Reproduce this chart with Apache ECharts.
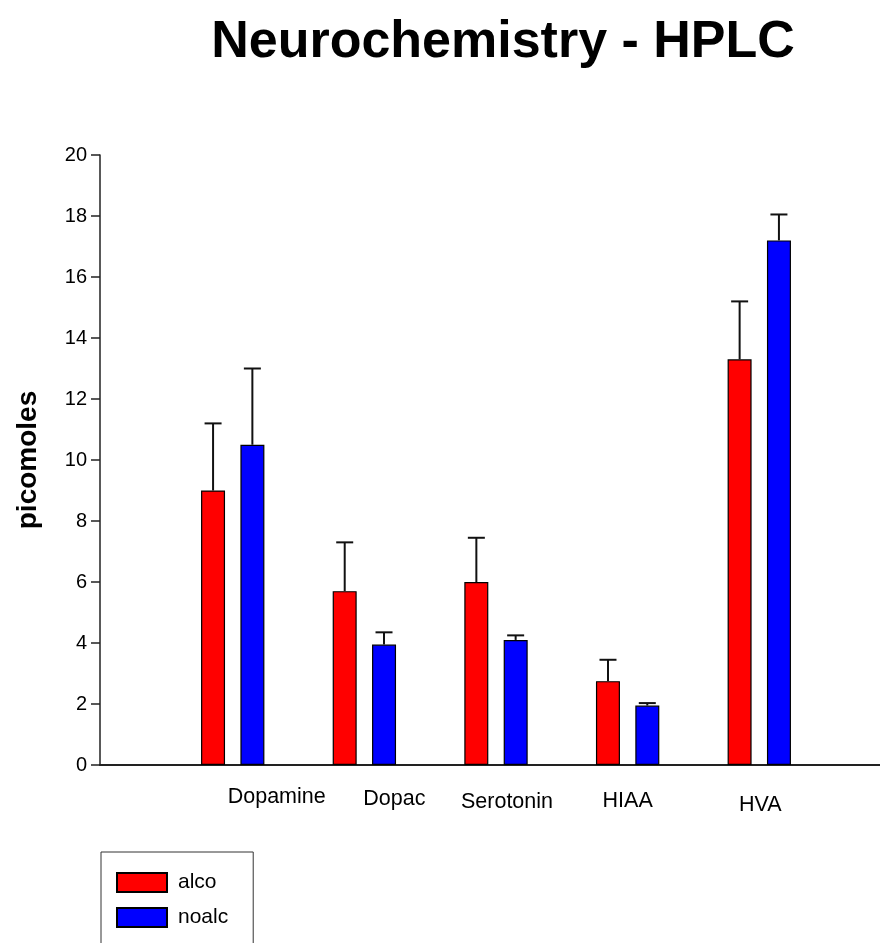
<!DOCTYPE html>
<html>
<head>
<meta charset="utf-8">
<script src="https://cdn.jsdelivr.net/npm/echarts@6/dist/echarts.min.js"></script>
<style>html,body{margin:0;padding:0;background:#fff}#c{width:880px;height:943px}</style>
</head>
<body>
<div id="c"></div>
<script>
const categories = ['Dopamine', 'Dopac', 'Serotonin', 'HIAA', 'HVA'];
const alco = [9.0, 5.7, 6.0, 2.75, 13.3];
const alcoErr = [2.2, 1.6, 1.45, 0.7, 1.9];
const noalc = [10.5, 3.95, 4.1, 1.95, 17.2];
const noalcErr = [2.5, 0.4, 0.15, 0.08, 0.85];
const yTicks = [0, 2, 4, 6, 8, 10, 12, 14, 16, 18, 20];

const FONT = '"Liberation Sans", Arial, sans-serif';
// per-label visual nudges (style only)
const labelShift = [[88, 0], [60, 2], [22, 5], [0, 4], [2, 8]];
const rich = {};
labelShift.forEach((s, i) => {
  rich['s' + i] = { fontSize: 21.5, fontFamily: FONT, color: '#000', padding: [s[1], 0, 0, s[0]] };
});

function makeErr(name, means, errs, dx) {
  return {
    type: 'custom', name: name, xAxisIndex: 1, yAxisIndex: 1, z: 5, silent: true,
    data: means.map((m, i) => [i, m, m + errs[i]]),
    renderItem: function (params, api) {
      const b = api.coord([api.value(0), api.value(1)]);
      const t = api.coord([api.value(0), api.value(2)]);
      const x = b[0] + dx;
      const st = { stroke: '#111', lineWidth: 2 };
      return {
        type: 'group', children: [
          { type: 'line', shape: { x1: x, y1: b[1], x2: x, y2: t[1] }, style: st },
          { type: 'line', shape: { x1: x - 8.5, y1: t[1], x2: x + 8.5, y2: t[1] }, style: st }
        ]
      };
    }
  };
}

const chart = echarts.init(document.getElementById('c'), null, { renderer: 'canvas' });
chart.setOption({
  animation: false,
  backgroundColor: '#fff',
  title: {
    text: 'Neurochemistry - HPLC', left: 498, top: 12, textAlign: 'center',
    textStyle: { fontFamily: FONT, fontWeight: 'bold', fontSize: 52, color: '#000' }
  },
  legend: {
    data: ['alco', 'noalc'], orient: 'vertical', left: 101, top: 852, height: 200,
    padding: [20, 25, 40, 15], itemWidth: 50, itemHeight: 19, itemGap: 14,
    borderColor: '#333', borderWidth: 1, icon: 'rect',
    textStyle: { fontFamily: FONT, fontSize: 21, color: '#000', padding: [0, 0, 0, 6] }
  },
  grid: [
    { left: 100, right: 0, top: 155, bottom: 178, outerBoundsMode: 'none', containLabel: false },
    { left: 166.9, width: 658.2, top: 155, bottom: 178, outerBoundsMode: 'none', containLabel: false }
  ],
  xAxis: [
    { type: 'value', gridIndex: 0, min: 0, max: 1, axisLine: { show: true, lineStyle: { color: '#222', width: 2 } },
      axisTick: { show: false }, axisLabel: { show: false }, splitLine: { show: false } },
    { type: 'category', gridIndex: 1, data: categories, axisLine: { show: false }, axisTick: { show: false },
      axisLabel: { margin: 21, interval: 0,
        formatter: function (v, i) { return '{s' + i + '|' + v + '}'; }, rich: rich } }
  ],
  yAxis: [
    { type: 'value', gridIndex: 0, min: 0, max: 20, interval: 2,
      name: 'picomoles', nameLocation: 'middle', nameGap: 58,
      nameTextStyle: { fontFamily: FONT, fontWeight: 'bold', fontSize: 28, color: '#000' },
      axisLine: { show: true, lineStyle: { color: '#222', width: 1.5 } },
      axisTick: { show: true, inside: false, length: 9, lineStyle: { color: '#222', width: 1.5 } },
      axisLabel: { margin: 13, fontFamily: FONT, fontSize: 20, color: '#000',
        customValues: yTicks },
      splitLine: { show: false } },
    { type: 'value', gridIndex: 1, min: 0, max: 20, show: false }
  ],
  series: [
    { type: 'bar', name: 'alco', xAxisIndex: 1, yAxisIndex: 1, data: alco, barWidth: 24, barGap: '64%',
      itemStyle: { color: '#ff0000', borderColor: '#000', borderWidth: 1.2 } },
    { type: 'bar', name: 'noalc', xAxisIndex: 1, yAxisIndex: 1, data: noalc, barWidth: 24, barGap: '64%',
      itemStyle: { color: '#0000ff', borderColor: '#000', borderWidth: 1.2 } },
    makeErr('alcoErr', alco, alcoErr, -19.65),
    makeErr('noalcErr', noalc, noalcErr, 19.65)
  ]
});
</script>
</body>
</html>
